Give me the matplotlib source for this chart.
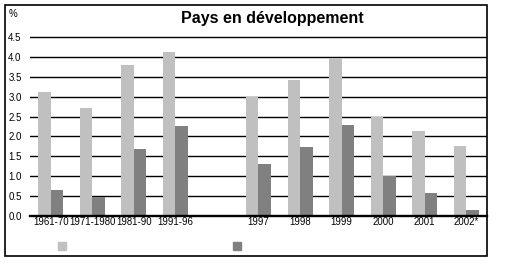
import matplotlib
matplotlib.use('Agg')
import matplotlib.pyplot as plt
from matplotlib.patches import Rectangle
import numpy as np

plt.rcParams['font.family'] = ['Liberation Sans', 'DejaVu Sans']

# categories (slot 4 is an empty gap in the original chart)
categories = ['1961-70', '1971-1980', '1981-90', '1991-96', '',
              '1997', '1998', '1999', '2000', '2001', '2002*']
light_vals = [3.12, 2.72, 3.81, 4.12, np.nan, 3.00, 3.43, 3.99, 2.49, 2.14, 1.77]
dark_vals = [0.65, 0.48, 1.68, 2.26, np.nan, 1.31, 1.73, 2.29, 1.00, 0.58, 0.14]
y_ticks = [0.0, 0.5, 1.0, 1.5, 2.0, 2.5, 3.0, 3.5, 4.0, 4.5]

W, H = 528, 273
fig = plt.figure(figsize=(W / 100, H / 100), dpi=100)

# axes geometry in pixels
ax_left, ax_right = 30, 487
y_zero, y_top = 215.7, 37.3
ymax = 4.55
px_per_unit = (y_zero - y_top) / 4.5
ax_top_px = y_zero - ymax * px_per_unit
ax = fig.add_axes([ax_left / W, (H - y_zero) / H,
                   (ax_right - ax_left) / W, (y_zero - ax_top_px) / H])

x = np.arange(len(categories))
bw = 0.3
ax.bar(x - bw / 2, light_vals, bw, color='#c0c0c0', zorder=3)
ax.bar(x + bw / 2, dark_vals, bw, color='#808080', zorder=3)

ax.set_xlim(-0.5, len(categories) - 0.5)
ax.set_ylim(0, ymax)
ax.set_yticks(y_ticks)
ax.set_yticklabels([f'{v:.1f}' for v in y_ticks], fontsize=7)
ax.yaxis.grid(True, color='black', linewidth=1.0, zorder=0)
ax.tick_params(axis='y', length=0, pad=6)
ax.tick_params(axis='x', length=0, pad=1)
ax.set_xticks(x)
ax.set_xticklabels(categories, fontsize=6.9)
for s in ['top', 'right', 'left']:
    ax.spines[s].set_visible(False)
ax.spines['bottom'].set_linewidth(1.7)
ax.spines['bottom'].set_zorder(4)

# outer frame
fig.add_artist(Rectangle((5 / W, (H - 256) / H), (487 - 5) / W, (256 - 5) / H,
                         transform=fig.transFigure, fill=False,
                         edgecolor='black', linewidth=1.2))

fig.text(272 / W, 1 - 18 / H, 'Pays en développement', fontsize=11.5,
         fontweight='bold', ha='center', va='center')
fig.text(9 / W, 1 - 14 / H, '%', fontsize=7, ha='left', va='center')

# legend squares (no labels in the original)
fig.add_artist(Rectangle((57.5 / W, (H - 250) / H), 8 / W, 8 / H,
                         transform=fig.transFigure, color='#c0c0c0'))
fig.add_artist(Rectangle((233 / W, (H - 250) / H), 8 / W, 8 / H,
                         transform=fig.transFigure, color='#808080'))

fig.savefig('out.png', dpi=100)
